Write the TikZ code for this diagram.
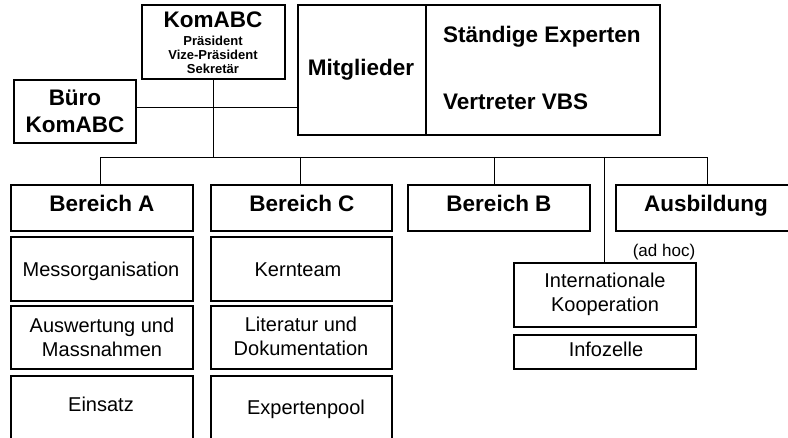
\documentclass[tikz,border=0pt]{standalone}
\usepackage{fontspec}
\setmainfont{Liberation Sans}
\usetikzlibrary{fit}
\begin{document}
\begin{tikzpicture}[x=1pt,y=-1pt,
  box/.style={draw=black,line width=1.1pt,inner sep=0pt,fill=white},
  conn/.style={draw=black,line width=0.8pt},
  big/.style={font=\fontsize{22.5}{27}\selectfont\bfseries,inner sep=0pt,anchor=base},
  tiny/.style={font=\fontsize{13}{14}\selectfont\bfseries,inner sep=0pt,anchor=base},
  norm/.style={font=\fontsize{20}{23}\selectfont,inner sep=0pt,anchor=base},
  adhoc/.style={font=\fontsize{17}{20}\selectfont,inner sep=0pt,anchor=base}]
\useasboundingbox (0,0) rectangle (788,438);
\clip (0,0) rectangle (788,438);
\fill[white] (0,0) rectangle (788,438);
% coordinates of connector junctions
\coordinate (hub) at (213,157);
\coordinate (mid) at (213,107);
% connectors
\draw[conn] (213,79) -- (hub);
\draw[conn] (136,107) -- (298,107);
\draw[conn] (100,185) -- (100,157) -- (707,157) -- (707,185);
\draw[conn] (300,157) -- (300,185);
\draw[conn] (494,157) -- (494,185);
\draw[conn] (604,157) -- (604,263);
% boxes
\node[box,fit={(142,5) (285,79)}] (komabc) {};
\node[box,fit={(14,80) (136,143)}] (buero) {};
\node[box,fit={(298,5) (660,135)}] (mit) {};
\draw[line width=1.1pt] (426,5) -- (426,135);
\node[box,fit={(11,185) (193,231)}] (bA) {};
\node[box,fit={(211,185) (392,231)}] (bC) {};
\node[box,fit={(408,185) (590,231)}] (bB) {};
\node[box,fit={(616,185) (796,231)}] (ausb) {};
\node[box,fit={(11,237) (193,301)}] (mess) {};
\node[box,fit={(11,306) (193,369)}] (ausw) {};
\node[box,fit={(11,376) (193,450)}] (eins) {};
\node[box,fit={(211,237) (392,301)}] (kern) {};
\node[box,fit={(211,306) (392,369)}] (lit) {};
\node[box,fit={(211,376) (392,450)}] (exp) {};
\node[box,fit={(514,263) (696,327)}] (intk) {};
\node[box,fit={(514,335) (696,369)}] (info) {};
% texts
\node[big] (tKom) at (213,28) {KomABC};
\node[tiny] (tPr) at (213,46) {Präsident};
\node[tiny] (tVp) at (213,60) {Vize-Präsident};
\node[tiny] (tSk) at (213,74) {Sekretär};
\node[big] (tB1) at (75,106) {Büro};
\node[big] (tB2) at (75,133) {KomABC};
\node[big] (tMit) at (361,76) {Mitglieder};
\node[big,anchor=base west] (tSE) at (443,43) {Ständige Experten};
\node[big,anchor=base west] (tVV) at (443,110) {Vertreter VBS};
\node[big] (tBA) at (102,212) {Bereich A};
\node[big] (tBC) at (302,212) {Bereich C};
\node[big] (tBB) at (499,212) {Bereich B};
\node[big] (tAu) at (706,212) {Ausbildung};
\node[adhoc] (tAh) at (664,257) {(ad hoc)};
\node[norm] (tMe) at (101,277) {Messorganisation};
\node[norm] (tKe) at (298,277) {Kernteam};
\node[norm] (tAw1) at (102,333) {Auswertung und};
\node[norm] (tAw2) at (102,357) {Massnahmen};
\node[norm] (tLi1) at (301,332) {Literatur und};
\node[norm] (tLi2) at (301,356) {Dokumentation};
\node[norm] (tEi) at (101,412) {Einsatz};
\node[norm] (tEx) at (306,415) {Expertenpool};
\node[norm] (tIn1) at (605,288) {Internationale};
\node[norm] (tIn2) at (605,312) {Kooperation};
\node[norm] (tIz) at (606,357) {Infozelle};
\end{tikzpicture}
\end{document}
